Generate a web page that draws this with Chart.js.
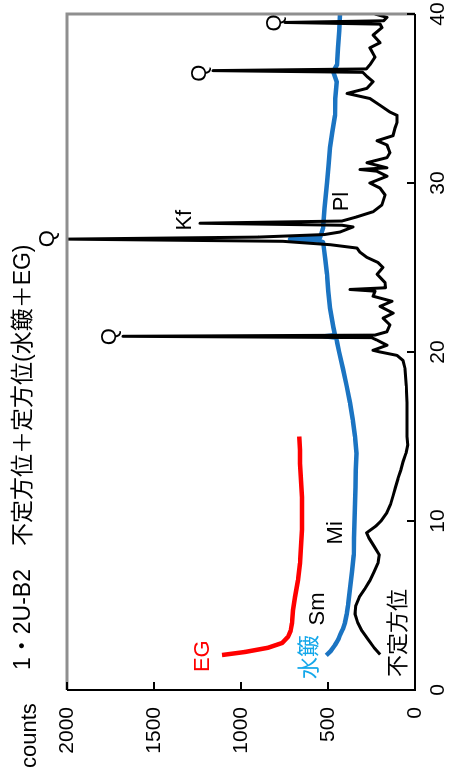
<!DOCTYPE html>
<html lang="ja">
<head>
  <meta charset="UTF-8" />
  <title>1・2U-B2 XRD</title>
  <script src="https://cdn.jsdelivr.net/npm/chart.js"></script>
  <style>
    html, body { margin: 0; padding: 0; background: #fff; overflow: hidden; }
    /* chart is drawn landscape, then turned to portrait */
    #wrap {
      position: absolute; left: 0; top: 0;
      width: 775px; height: 452px;
      transform-origin: 0 0;
      transform: translate(0, 775px) rotate(-90deg);
    }
  </style>
</head>
<body>
<div id="wrap"><canvas id="xrd" width="775" height="452"></canvas></div>

<script>
  // 2θ (deg) / counts
  const blackX = [2.1, 2.5, 3.0, 3.5, 4.0, 4.5, 5.0, 5.5, 6.0, 6.5, 7.0, 7.5, 8.0, 8.5, 9.0, 9.3, 9.7, 10.0,
    10.5, 11.0, 11.5, 12.0, 12.5, 13.0, 13.5, 14.0, 14.5, 15.0, 16.0, 17.0, 18.0, 19.0, 19.5, 19.8, 20.0,
    20.1, 20.4, 20.7, 20.85, 20.93, 21.0, 21.2, 21.6, 22.0, 22.3, 22.7, 23.0, 23.3, 23.6, 23.7, 23.8, 24.1,
    24.6, 25.0, 25.3, 25.6, 25.9, 26.15, 26.35, 26.55, 26.68, 26.8, 26.95, 27.1, 27.4, 27.5, 27.62, 27.75,
    28.0, 28.3, 28.7, 29.3, 29.7, 30.0, 30.4, 30.7, 30.8, 30.9, 31.2, 31.5, 31.8, 32.25, 32.5, 32.8, 33.25,
    33.6, 34.0, 34.2, 34.6, 35.0, 35.3, 35.6, 36.0, 36.3, 36.55, 36.65, 36.75, 37.0, 37.45, 38.0, 38.3,
    38.75, 39.2, 39.4, 39.5, 39.6, 39.8, 40.0];
  const blackY = [200, 235, 270, 305, 330, 345, 340, 320, 287, 258, 235, 213, 205, 235, 265, 278, 225, 195,
    161, 140, 126, 112, 98, 82, 69, 52, 42, 46, 46, 46, 50, 57, 69, 103, 200,
    241, 161, 218, 250, 1678, 230, 161, 144, 184, 126, 201, 132, 241, 230, 374, 170, 172,
    218, 184, 213, 276, 316, 333, 488, 760, 2000, 900, 520, 431, 356, 420, 1236, 420,
    333, 241, 190, 172, 201, 259, 161, 220, 316, 161, 276, 161, 144, 161, 218, 126, 115,
    103, 103, 144, 201, 259, 390, 276, 241, 276, 300, 1161, 280, 259, 230, 259, 201,
    241, 190, 200, 747, 180, 161, 230];

  const blueX = [2.05, 2.3, 2.66, 3.0, 3.25, 3.6, 4.0, 4.5, 5.0, 6.0, 7.0, 8.0, 9.0, 10.0, 11.0, 12.0, 13.0,
    14.0, 15.0, 16.0, 17.0, 18.0, 19.0, 20.0, 20.6, 20.85, 20.93, 21.0, 21.5, 22.6, 23.6, 24.6, 25.5, 26.5,
    26.6, 26.68, 26.78, 27.3, 28.5, 30.0, 31.0, 32.1, 33.0, 34.0, 35.0, 36.0, 36.6, 37.0, 38.0, 39.0, 40.0];
  const blueY = [510, 485, 460, 440, 431, 415, 402, 392, 385, 374, 362, 352, 350, 348, 345, 342, 340,
    336, 345, 358, 374, 393, 414, 436, 448, 455, 520, 460, 470, 488, 498, 506, 516, 528,
    560, 718, 545, 529, 520, 506, 497, 488, 475, 460, 458, 450, 470, 448, 442, 436, 431];

  const redX = [2.07, 2.25, 2.5, 2.78, 3.14, 3.5, 3.96, 4.73, 5.5, 6.5, 7.5, 8.5, 9.5, 10.5, 11.4, 12.4,
    13.4, 14.2, 15.0];
  const redY = [1109, 977, 845, 764, 730, 715, 707, 701, 690, 672, 661, 655, 649, 649, 649, 655,
    661, 661, 665];

  const xTicks = [0, 10, 20, 30, 40];
  const yTicks = [0, 500, 1000, 1500, 2000];

  // peak / curve labels: text, 2θ, counts, colour
  const noteText = ['EG', '水簸', 'Sm', '不定方位', 'Mi', 'Q', 'Q', 'Kf', 'Pl', 'Q', 'Q'];
  const noteX = [2.0, 1.95, 4.8, 3.37, 9.3, 20.9, 26.7, 27.8, 28.9, 36.5, 39.47];
  const noteY = [1218, 603, 557, 92, 454, 1753, 2109, 1322, 420, 1236, 805];
  const noteColor = ['#ff0000', '#14a8ea', '#000', '#000', '#000', '#000', '#000', '#000', '#000', '#000', '#000'];

  const titleText = '1・2U-B2　不定方位＋定方位(水簸＋EG)';
  const FONT = "'Liberation Sans', 'Noto Sans CJK JP', sans-serif";

  const pts = (xs, ys) => xs.map((v, i) => ({ x: v, y: ys[i] }));

  const frame = {
    id: 'frame',
    afterDraw(chart) {
      const { ctx, chartArea: a, scales: { x, y } } = chart;
      ctx.save();
      // grey box on the far sides
      ctx.strokeStyle = '#8f8f8f';
      ctx.lineWidth = 3;
      ctx.beginPath();
      ctx.moveTo(a.left, a.top); ctx.lineTo(a.right, a.top); ctx.lineTo(a.right, a.bottom);
      ctx.stroke();
      // black axes + inward ticks
      ctx.strokeStyle = '#000';
      ctx.lineWidth = 2;
      ctx.beginPath();
      ctx.moveTo(a.left, a.top); ctx.lineTo(a.left, a.bottom); ctx.lineTo(a.right, a.bottom);
      yTicks.forEach(v => { const p = y.getPixelForValue(v); ctx.moveTo(a.left, p); ctx.lineTo(a.left + 8, p); });
      xTicks.forEach(v => { const p = x.getPixelForValue(v); ctx.moveTo(p, a.bottom); ctx.lineTo(p, a.bottom - 8); });
      ctx.stroke();

      // labels on the curves
      ctx.font = '22px ' + FONT;
      ctx.textAlign = 'center';
      ctx.textBaseline = 'middle';
      noteText.forEach((t, i) => {
        ctx.fillStyle = noteColor[i];
        ctx.fillText(t, x.getPixelForValue(noteX[i]), y.getPixelForValue(noteY[i]));
      });

      // title and axis name
      ctx.fillStyle = '#000';
      ctx.textAlign = 'left';
      ctx.textBaseline = 'alphabetic';
      ctx.font = '23px ' + FONT;
      ctx.fillText(titleText, 105, 30);
      ctx.font = '22px ' + FONT;
      ctx.fillText('counts', 7, 36);
      ctx.restore();
    }
  };

  new Chart(document.getElementById('xrd'), {
    type: 'line',
    data: {
      datasets: [
        { label: '不定方位', data: pts(blackX, blackY), borderColor: '#000', borderWidth: 3 },
        { label: '水簸', data: pts(blueX, blueY), borderColor: '#1b74c2', borderWidth: 4.5 },
        { label: 'EG', data: pts(redX, redY), borderColor: '#ff0000', borderWidth: 4.5 }
      ]
    },
    options: {
      responsive: false,
      animation: false,
      devicePixelRatio: 1,
      elements: { point: { radius: 0 }, line: { tension: 0, borderJoinStyle: 'round' } },
      layout: { padding: { top: 67, right: 14, left: 0, bottom: 0 } },
      plugins: { legend: { display: false }, tooltip: { enabled: false } },
      scales: {
        x: {
          type: 'linear', min: 0, max: 40,
          grid: { display: false, drawTicks: false },
          border: { display: false },
          ticks: { stepSize: 10, autoSkip: false, maxRotation: 0, padding: 11, color: '#000', font: { size: 21, family: FONT } },
          afterFit: s => { s.height = 37; s.paddingLeft = 0; s.paddingRight = 0; }
        },
        y: {
          min: 0, max: 2000,
          grid: { display: false, drawTicks: false },
          border: { display: false },
          ticks: {
            stepSize: 500, autoSkip: false, padding: 17, color: '#000', font: { size: 21, family: FONT },
            callback: v => String(v)
          },
          afterFit: s => { s.width = 85; s.paddingTop = 0; s.paddingBottom = 0; }
        }
      }
    },
    plugins: [frame]
  });
</script>
</body>
</html>
